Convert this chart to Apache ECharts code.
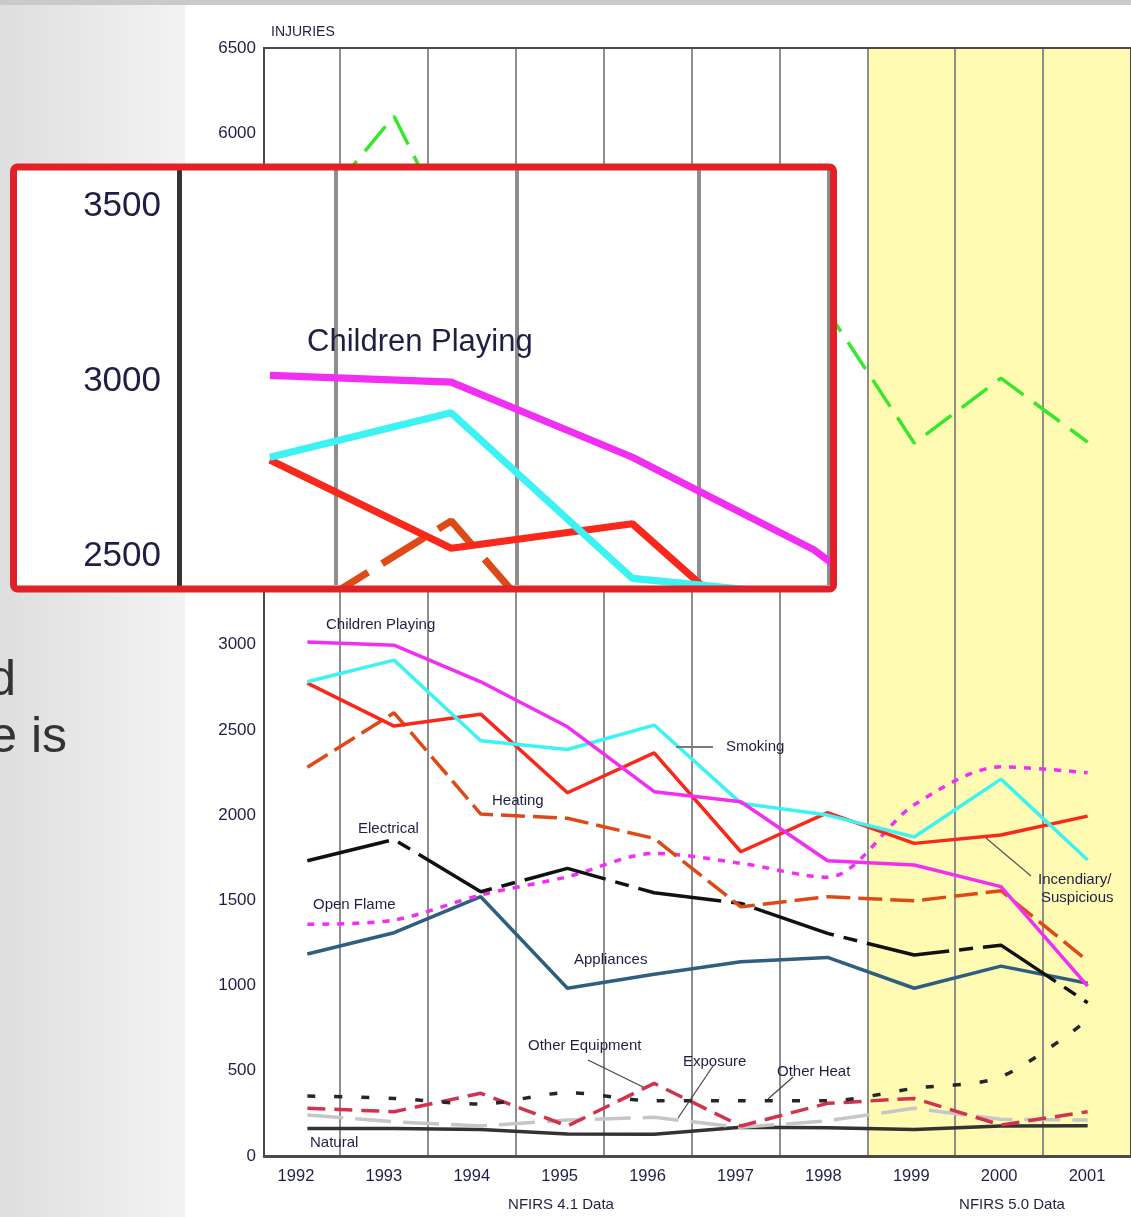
<!DOCTYPE html>
<html>
<head>
<meta charset="utf-8">
<title>Injuries by cause</title>
<style>
  html, body { margin: 0; padding: 0; background: #fff; }
  #chart { width: 1131px; height: 1217px; }
</style>
<script src="https://cdn.jsdelivr.net/npm/echarts@6/dist/echarts.min.js"></script>
</head>
<body>
<div id="chart"></div>
<script>
// data
var years = ['1992', '1993', '1994', '1995', '1996', '1997', '1998', '1999', '2000', '2001'];
var nfirs5Years = ['1999', '2000', '2001'];

var cooking = [5490, 6100, 5080, 5150, 5200, 5100, 4956, 4182, 4563, 4188];
var childrenPlaying = [3016, 2997, 2782, 2518, 2137, 2078, 1732, 1707, 1580, 997];
var smoking = [2782, 2909, 2436, 2385, 2528, 2070, 2000, 1871, 2211, 1736];
var incendiary = [2774, 2522, 2592, 2131, 2365, 1785, 2014, 1834, 1883, 1994];
var heating = [2280, 2600, 2006, 1981, 1863, 1462, 1521, 1497, 1556, 1145];
var electrical = [1732, 1857, 1550, 1687, 1544, 1482, 1306, 1179, 1237, 899];
var openFlame = [1359, 1384, 1531, 1638, 1775, 1717, 1635, 2060, 2283, 2248];
var appliances = [1185, 1310, 1521, 984, 1066, 1140, 1165, 984, 1114, 1013];
var otherHeat = [352, 338, 305, 371, 324, 324, 324, 397, 465, 798];
var otherEquipment = [280, 260, 368, 176, 426, 176, 309, 338, 182, 260];
var exposure = [240, 201, 176, 211, 227, 168, 207, 280, 215, 211];
var natural = [162, 162, 156, 129, 127, 168, 166, 156, 176, 178];

(function() {
    var myChart = echarts.init(document.getElementById('chart'));

    var textColor = '#1f1f45';
    var font = '"Liberation Sans", Arial, sans-serif';
    var zoomK = 2.06; // magnified box scale

    // line styles per cause
    var lines = [
        { name: 'Natural', data: natural, color: '#333333', dash: 'solid' },
        { name: 'Exposure', data: exposure, color: '#c6c6c6', dash: [36, 12] },
        { name: 'Other Equipment', data: otherEquipment, color: '#d3324f', dash: [18, 9] },
        { name: 'Other Heat', data: otherHeat, color: '#262626', dash: [8, 19], smooth: 0.3 },
        { name: 'Appliances', data: appliances, color: '#2e5f80', dash: 'solid' },
        { name: 'Open Flame', data: openFlame, color: '#f22ef2', dash: [7, 8], smooth: 0.3 },
        { name: 'Electrical', data: electrical, color: '#111111', dash: [84, 10, 14, 10] },
        { name: 'Heating', data: heating, color: '#de4a16', dash: [24, 8] },
        { name: 'Incendiary/Suspicious', data: incendiary, color: '#f8281a', dash: 'solid' },
        { name: 'Smoking', data: smoking, color: '#3df2f2', dash: 'solid' },
        { name: 'Children Playing', data: childrenPlaying, color: '#f22ef2', dash: 'solid' },
        { name: 'Cooking', data: cooking, color: '#36e82c', dash: [32, 13] }
    ];

    var bandColors = years.map(function(y) {
        return nfirs5Years.indexOf(y) >= 0 ? '#fffbb2' : 'rgba(0,0,0,0)';
    });

    function scaleDash(d, k) {
        return Array.isArray(d) ? d.map(function(v) { return v * k; }) : d;
    }

    var series = [];
    lines.forEach(function(l) {
        series.push({
            name: l.name,
            type: 'line',
            xAxisIndex: 0,
            yAxisIndex: 0,
            data: l.data,
            symbol: 'none',
            smooth: l.smooth || false,
            silent: true,
            z: 2,
            lineStyle: { color: l.color, width: 3.5, type: l.dash }
        });
    });
    // same lines again, inside the magnified box
    lines.forEach(function(l) {
        series.push({
            name: l.name + ' (zoom)',
            type: 'line',
            xAxisIndex: 2,
            yAxisIndex: 2,
            data: l.data.map(function(v, i) { return [i, v]; }),
            symbol: 'none',
            smooth: l.smooth || false,
            silent: true,
            clip: true,
            z: 11,
            lineStyle: { color: l.color, width: 3.5 * zoomK, type: scaleDash(l.dash, zoomK) }
        });
    });

    function note(text, x, y, size) {
        return {
            type: 'text', z: 5, silent: true,
            style: {
                text: text, x: x, y: y, fill: textColor,
                font: (size || 15) + 'px ' + font,
                textAlign: 'left', textVerticalAlign: 'middle'
            }
        };
    }
    function leader(x1, y1, x2, y2, color, w) {
        return {
            type: 'line', z: 5, silent: true,
            shape: { x1: x1, y1: y1, x2: x2, y2: y2 },
            style: { stroke: color, lineWidth: w }
        };
    }

    var graphic = [
        // slide background on the left and top
        {
            type: 'rect', z: 0, silent: true,
            shape: { x: 0, y: 0, width: 185, height: 1217 },
            style: {
                fill: new echarts.graphic.LinearGradient(0, 0, 1, 0, [
                    { offset: 0, color: '#dedede' },
                    { offset: 1, color: '#f3f3f3' }
                ])
            }
        },
        {
            type: 'rect', z: 0, silent: true,
            shape: { x: 0, y: 0, width: 1131, height: 5 },
            style: { fill: '#cacaca' }
        },
        {
            type: 'text', z: 1, silent: true,
            style: { text: 'd', x: 16, y: 681, fill: '#333', font: '50px ' + font, textAlign: 'right', textVerticalAlign: 'middle' }
        },
        {
            type: 'text', z: 1, silent: true,
            style: { text: 'e is', x: 67, y: 738, fill: '#333', font: '50px ' + font, textAlign: 'right', textVerticalAlign: 'middle' }
        },

        // titles
        {
            type: 'text', z: 5, silent: true,
            style: { text: 'INJURIES', x: 271, y: 32, fill: textColor, font: '500 14px ' + font, textAlign: 'left', textVerticalAlign: 'middle' }
        },
        {
            type: 'text', z: 5, silent: true,
            style: { text: 'NFIRS 4.1 Data', x: 561, y: 1205, fill: textColor, font: '15px ' + font, textAlign: 'center', textVerticalAlign: 'middle' }
        },
        {
            type: 'text', z: 5, silent: true,
            style: { text: 'NFIRS 5.0 Data', x: 1012, y: 1205, fill: textColor, font: '15px ' + font, textAlign: 'center', textVerticalAlign: 'middle' }
        },

        // line labels
        note('Children Playing', 326, 625),
        note('Smoking', 726, 747),
        note('Heating', 492, 801),
        note('Electrical', 358, 829),
        note('Open Flame', 313, 905),
        note('Appliances', 574, 960),
        note('Incendiary/', 1038, 880),
        note('Suspicious', 1041, 898),
        note('Other Equipment', 528, 1046),
        note('Exposure', 683, 1062),
        note('Other Heat', 777, 1072),
        note('Natural', 310, 1143),
        leader(676, 747, 713, 747, '#7a7a7a', 2),
        leader(986, 838, 1031, 876, '#555', 1.2),
        leader(588, 1060, 643, 1087, '#444', 1.2),
        leader(713, 1066, 678, 1118, '#444', 1.2),
        leader(793, 1077, 768, 1099, '#444', 1.2),

        // magnified box
        {
            type: 'rect', z: 10, silent: true,
            shape: { x: 13, y: 167, width: 820, height: 422 },
            style: { fill: '#ffffff' }
        },
        {
            type: 'text', z: 12, silent: true,
            style: { text: 'Children Playing', x: 307, y: 342, fill: textColor, font: '31px ' + font, textAlign: 'left', textVerticalAlign: 'middle' }
        },
        {
            type: 'rect', z: 13, silent: true,
            shape: { x: 13.5, y: 167, width: 820, height: 422, r: 4 },
            style: { fill: 'none', stroke: '#e02227', lineWidth: 7 }
        }
    ];

    var option = {
        backgroundColor: '#ffffff',
        animation: false,
        grid: [
            // plot area
            { left: 264, top: 48, width: 871, height: 1108, show: true, borderColor: '#4a4a4a', borderWidth: 2, backgroundColor: 'rgba(0,0,0,0)', z: 1 },
            // year bands, starting left of the axis
            { left: 252, top: 48, width: 882, height: 1108 },
            // magnified box
            { left: 179, top: 170, width: 650, height: 415 }
        ],
        xAxis: [
            {
                gridIndex: 0, type: 'category', data: years, boundaryGap: true,
                axisLine: { show: true, lineStyle: { color: '#111', width: 2.5 } },
                axisTick: { show: false }, axisLabel: { show: false }, splitLine: { show: false }
            },
            {
                gridIndex: 1, type: 'category', data: years, boundaryGap: true, z: 0,
                axisLine: { show: false }, axisTick: { show: false },
                axisLabel: { interval: 0, margin: 12, fontSize: 16.5, color: textColor, fontFamily: font },
                splitLine: {
                    show: true,
                    interval: function(index) { return index > 0; },
                    lineStyle: { color: '#8e8e8e', width: 2 }
                },
                splitArea: { show: true, interval: 0, areaStyle: { color: bandColors } }
            },
            { gridIndex: 2, type: 'value', min: -0.502, max: 3.085, show: false },
            {
                gridIndex: 2, type: 'value', min: -0.866, max: 2.721, minInterval: 1, maxInterval: 1, z: 11,
                axisLine: { show: false }, axisTick: { show: false }, axisLabel: { show: false },
                splitLine: { show: true, lineStyle: { color: '#8e8e8e', width: 4 } }
            }
        ],
        yAxis: [
            {
                gridIndex: 0, type: 'value', min: 0, max: 6500, interval: 500,
                axisLine: { show: true, lineStyle: { color: '#333', width: 2 } },
                axisTick: { show: false },
                axisLabel: {
                    margin: 8, fontSize: 17, color: textColor, fontFamily: font,
                    formatter: function(v) { return String(v); }
                },
                splitLine: { show: false }
            },
            { gridIndex: 1, type: 'value', min: 0, max: 6500, show: false },
            {
                gridIndex: 2, type: 'value', min: 2417, max: 3603, minInterval: 500, maxInterval: 500, z: 11,
                axisLine: { show: true, onZero: false, lineStyle: { color: '#333', width: 5 } },
                axisTick: { show: false },
                axisLabel: {
                    margin: 18, fontSize: 35, color: textColor, fontFamily: font,
                    formatter: function(v) { return v % 500 === 0 ? String(v) : ''; }
                },
                splitLine: { show: false }
            }
        ],
        graphic: graphic,
        series: series
    };

    myChart.setOption(option);

    window.addEventListener('resize', function() {
        myChart.resize();
    });
})();
</script>
</body>
</html>
